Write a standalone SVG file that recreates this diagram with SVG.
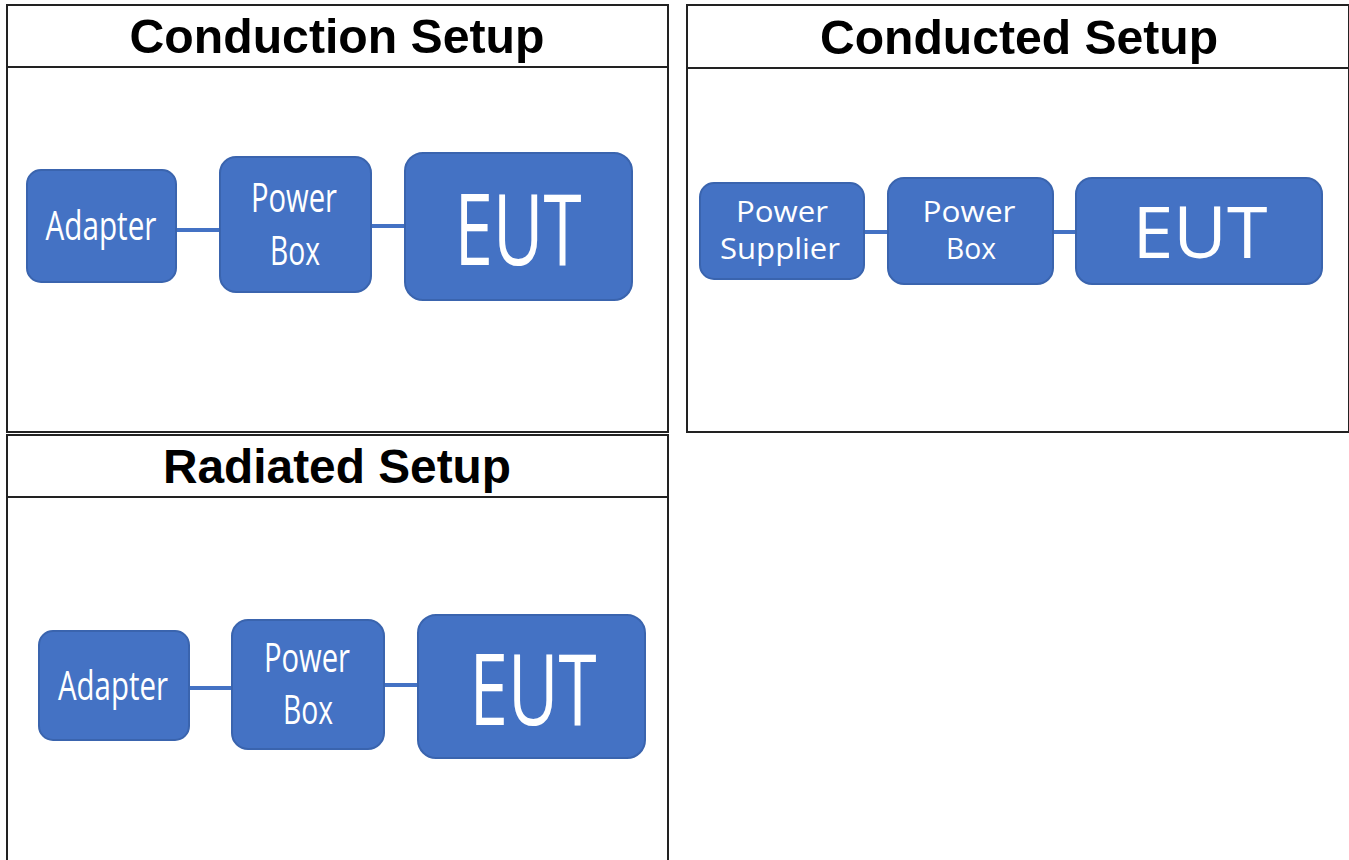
<svg xmlns="http://www.w3.org/2000/svg" width="1349" height="860" viewBox="0 0 1349 860">
<style>
.panel{fill:#fff;stroke:#222;stroke-width:2}
.hline{stroke:#222;stroke-width:2}
.title{font-family:"Liberation Sans",Arial,sans-serif;font-weight:bold;font-size:48px;fill:#000;text-anchor:middle}
.box{fill:#4472C4;stroke:#3A64AE;stroke-width:2}
.lbl{font-family:"Open Sans","Noto Sans",sans-serif;fill:#fff}
.conn{stroke:#4472C4;stroke-width:4;fill:none}
</style>
<rect width="1349" height="860" fill="#fff"/>
<g id="panel-conduction">
<rect class="panel" x="7" y="5" width="661" height="427"/>
<line class="hline" x1="7" y1="67" x2="668" y2="67"/>
<text class="title" x="337" y="53" textLength="415" lengthAdjust="spacingAndGlyphs">Conduction Setup</text>
</g>
<g id="panel-conducted">
<rect class="panel" x="687" y="5" width="662" height="427"/>
<line class="hline" x1="687" y1="68" x2="1349" y2="68"/>
<text class="title" x="1019" y="54" textLength="398" lengthAdjust="spacingAndGlyphs">Conducted Setup</text>
</g>
<g id="panel-radiated">
<path class="panel" d="M7,862 V435 H668 V862"/>
<line class="hline" x1="7" y1="497" x2="668" y2="497"/>
<text class="title" x="337" y="483" textLength="348" lengthAdjust="spacingAndGlyphs">Radiated Setup</text>
</g>
<g id="connectors">
<line class="conn" x1="176" y1="230" x2="220" y2="230"/>
<line class="conn" x1="371" y1="226" x2="405" y2="226"/>
<line class="conn" x1="864" y1="232" x2="888" y2="232"/>
<line class="conn" x1="1053" y1="232" x2="1076" y2="232"/>
<line class="conn" x1="189" y1="688" x2="232" y2="688"/>
<line class="conn" x1="384" y1="685" x2="418" y2="685"/>
</g>
<g id="c-adapter">
<rect class="box" x="27" y="170" width="149" height="112" rx="14"/>
<text class="lbl" x="101" y="240" font-size="40" text-anchor="middle" textLength="111" lengthAdjust="spacingAndGlyphs">Adapter</text>
</g>
<g id="c-powerbox">
<rect class="box" x="220" y="157" width="151" height="135" rx="16"/>
<text class="lbl" x="294" y="212" font-size="40" text-anchor="middle" textLength="86" lengthAdjust="spacingAndGlyphs">Power</text>
<text class="lbl" x="295" y="265" font-size="40" text-anchor="middle" textLength="50" lengthAdjust="spacingAndGlyphs">Box</text>
</g>
<g id="c-eut">
<rect class="box" x="405" y="153" width="227" height="147" rx="18"/>
<text class="lbl" x="518" y="265" font-size="98" text-anchor="middle" textLength="127" lengthAdjust="spacingAndGlyphs">EUT</text>
</g>
<g id="d-supplier">
<rect class="box" x="700" y="183" width="164" height="96" rx="14"/>
<text class="lbl" x="782" y="222" font-size="29" text-anchor="middle" textLength="92" lengthAdjust="spacingAndGlyphs">Power</text>
<text class="lbl" x="780" y="259" font-size="29" text-anchor="middle" textLength="120" lengthAdjust="spacingAndGlyphs">Supplier</text>
</g>
<g id="d-powerbox">
<rect class="box" x="888" y="178" width="165" height="106" rx="16"/>
<text class="lbl" x="969" y="222" font-size="29" text-anchor="middle" textLength="93" lengthAdjust="spacingAndGlyphs">Power</text>
<text class="lbl" x="971" y="259" font-size="29" text-anchor="middle" textLength="50" lengthAdjust="spacingAndGlyphs">Box</text>
</g>
<g id="d-eut">
<rect class="box" x="1076" y="178" width="246" height="106" rx="16"/>
<text class="lbl" x="1200" y="258" font-size="72" text-anchor="middle" textLength="135" lengthAdjust="spacingAndGlyphs">EUT</text>
</g>
<g id="r-adapter">
<rect class="box" x="39" y="631" width="150" height="109" rx="14"/>
<text class="lbl" x="113" y="700" font-size="40" text-anchor="middle" textLength="110" lengthAdjust="spacingAndGlyphs">Adapter</text>
</g>
<g id="r-powerbox">
<rect class="box" x="232" y="620" width="152" height="129" rx="16"/>
<text class="lbl" x="307" y="672" font-size="40" text-anchor="middle" textLength="86" lengthAdjust="spacingAndGlyphs">Power</text>
<text class="lbl" x="308" y="724" font-size="40" text-anchor="middle" textLength="50" lengthAdjust="spacingAndGlyphs">Box</text>
</g>
<g id="r-eut">
<rect class="box" x="418" y="615" width="227" height="143" rx="18"/>
<text class="lbl" x="533" y="725" font-size="98" text-anchor="middle" textLength="127" lengthAdjust="spacingAndGlyphs">EUT</text>
</g>
</svg>
